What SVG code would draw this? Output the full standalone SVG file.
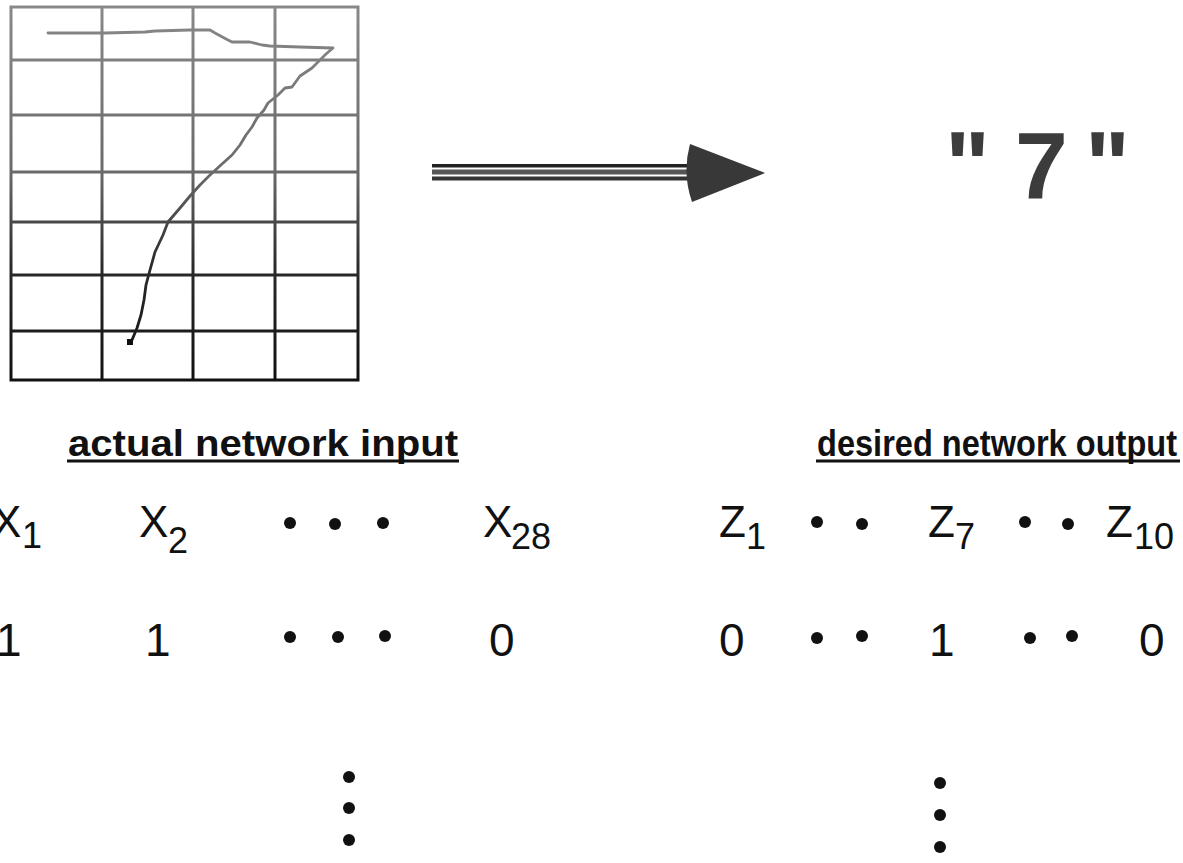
<svg xmlns="http://www.w3.org/2000/svg" width="1183" height="863" viewBox="0 0 1183 863">
<defs>
<linearGradient id="gridGrad" gradientUnits="userSpaceOnUse" x1="0" y1="0" x2="0" y2="380">
<stop offset="0" stop-color="#8a8a8a"/>
<stop offset="0.45" stop-color="#6a6a6a"/>
<stop offset="0.7" stop-color="#2a2a2a"/>
<stop offset="1" stop-color="#111"/>
</linearGradient>
</defs>
<style>
.grid{stroke:url(#gridGrad);stroke-width:3;fill:none}
.pen{stroke:url(#gridGrad);stroke-width:2.8;fill:none;stroke-linejoin:round;stroke-linecap:round}
.t{font-family:"Liberation Sans",Arial,Helvetica,sans-serif;fill:#111}
.big{font-size:44px}
.sub{font-size:36px}
.dig{font-size:46px}
.title{font-size:37px;font-weight:bold}
.q{font-size:95px;font-weight:bold;fill:#3c3c3c}
.ul{stroke:#111;stroke-width:3}
.dot{fill:#111}
</style>
<rect width="1183" height="863" fill="#fff"/>
<g id="input-grid">
<rect class="grid" x="11" y="7" width="347" height="373"/>
<line class="grid" x1="102" y1="7" x2="102" y2="380"/>
<line class="grid" x1="193" y1="7" x2="193" y2="380"/>
<line class="grid" x1="275" y1="7" x2="275" y2="380"/>
<line class="grid" x1="11" y1="60" x2="358" y2="60"/>
<line class="grid" x1="11" y1="115" x2="358" y2="115"/>
<line class="grid" x1="11" y1="172" x2="358" y2="172"/>
<line class="grid" x1="11" y1="222" x2="358" y2="222"/>
<line class="grid" x1="11" y1="275" x2="358" y2="275"/>
<line class="grid" x1="11" y1="331" x2="358" y2="331"/>
<path class="pen" d="M48,33 L105,33 L145,32 L155,31 L190,30 L210,30 L215,33 L228,40 L232,42 L250,42 L262,45 L270,46 L300,47 L333,48 L326,54 L318,62 L312,68 L300,76 L292,87 L285,88 L278,95 L268,103 L264,110 L257,118 L252,127 L246,135 L240,145 L232,155 L222,164 L210,175 L200,185 L190,196 L180,208 L168,222 L163,235 L155,252 L150,270 L146,285 L144,300 L141,315 L137,328 L132,340"/>
<rect x="127" y="339" width="6" height="6" fill="#111"/>
</g>
<g id="connectors">
<g id="arrow">
<rect x="432" y="164" width="258" height="3.5" fill="#222"/>
<rect x="432" y="169.5" width="258" height="5" fill="#555"/>
<rect x="432" y="176.5" width="258" height="4" fill="#333"/>
<path d="M690,144 L765,173 L692,202 Q682,173 690,144 Z" fill="#383838"/>
</g>
</g>
<g id="output-label">
<text class="t q" x="945" y="198">"</text>
<text class="t q" x="1015" y="199">7</text>
<text class="t q" x="1085" y="198">"</text>
</g>
<g id="input-title">
<text class="t title" x="68" y="456" textLength="390" lengthAdjust="spacingAndGlyphs">actual network input</text>
<line class="ul" x1="67" y1="461" x2="459" y2="461"/>
</g>
<g id="output-title">
<text class="t title" x="817" y="456" textLength="360" lengthAdjust="spacingAndGlyphs">desired network output</text>
<line class="ul" x1="816" y1="461" x2="1180" y2="461"/>
</g>
<g id="input-vars">
<text class="t big" x="-8" y="537">X</text><text class="t sub" x="22" y="548">1</text>
<text class="t big" x="139" y="537">X</text><text class="t sub" x="168" y="553">2</text>
<circle class="dot" cx="290" cy="523" r="6"/>
<circle class="dot" cx="335" cy="524" r="6"/>
<circle class="dot" cx="383" cy="523" r="6"/>
<text class="t big" x="483" y="537">X</text><text class="t sub" x="511" y="549">28</text>
</g>
<g id="output-vars">
<text class="t big" x="719" y="537">Z</text><text class="t sub" x="746" y="549">1</text>
<circle class="dot" cx="817" cy="522" r="6"/>
<circle class="dot" cx="862" cy="524" r="6"/>
<text class="t big" x="928" y="537">Z</text><text class="t sub" x="955" y="549">7</text>
<circle class="dot" cx="1025" cy="522" r="6"/>
<circle class="dot" cx="1068" cy="524" r="6"/>
<text class="t big" x="1106" y="537">Z</text><text class="t sub" x="1134" y="549">10</text>
</g>
<g id="input-values">
<text class="t dig" x="-4" y="656">1</text>
<text class="t dig" x="145" y="656">1</text>
<circle class="dot" cx="290" cy="637" r="6"/>
<circle class="dot" cx="338" cy="637" r="6"/>
<circle class="dot" cx="385" cy="636" r="6"/>
<text class="t dig" x="489" y="656">0</text>
</g>
<g id="output-values">
<text class="t dig" x="719" y="656">0</text>
<circle class="dot" cx="817" cy="638" r="6"/>
<circle class="dot" cx="862" cy="636" r="6"/>
<text class="t dig" x="929" y="656">1</text>
<circle class="dot" cx="1030" cy="638" r="6"/>
<circle class="dot" cx="1072" cy="636" r="6"/>
<text class="t dig" x="1139" y="656">0</text>
</g>
<g id="input-more">
<circle class="dot" cx="349" cy="777" r="6"/>
<circle class="dot" cx="349" cy="808" r="6"/>
<circle class="dot" cx="349" cy="840" r="6"/>
</g>
<g id="output-more">
<circle class="dot" cx="940" cy="783" r="6"/>
<circle class="dot" cx="940" cy="815" r="6"/>
<circle class="dot" cx="940" cy="847" r="6"/>
</g>
</svg>
